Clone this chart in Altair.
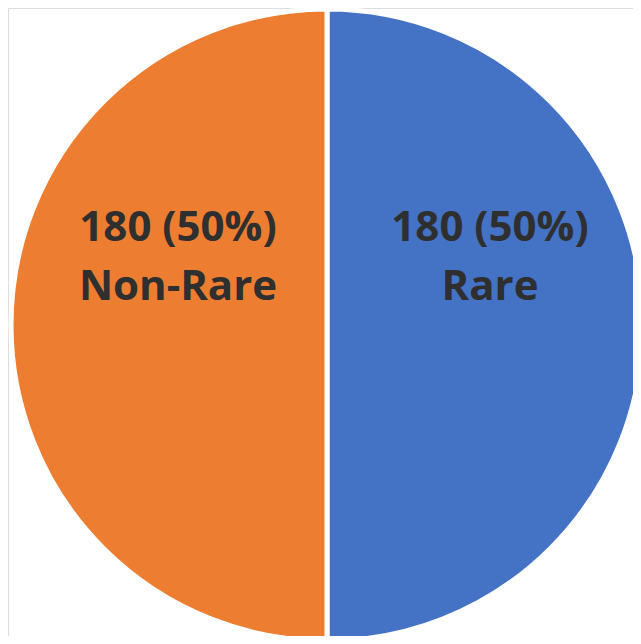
import altair as alt
import pandas as pd

categories = ["Rare", "Non-Rare"]
counts = [180, 180]
colors = ["#4472C4", "#ED7D31"]

total = sum(counts)
df = pd.DataFrame({
    "category": categories,
    "count": counts,
    "order": list(range(len(categories))),
})
df["line1"] = [f"{c} ({round(100 * c / total)}%)" for c in counts]

cx, cy = 319, 317

base = alt.Chart(df).encode(
    theta=alt.Theta("count:Q", stack=True),
    order=alt.Order("order:Q"),
    x=alt.value(cx),
    y=alt.value(cy),
)

pie = base.mark_arc(outerRadius=316, stroke="white", strokeWidth=5).encode(
    color=alt.Color("category:N", scale=alt.Scale(domain=categories, range=colors), legend=None)
)

font = "Open Sans"
t1 = base.mark_text(radius=156, dx=7, dy=-97, font=font, fontWeight="bold", fontSize=42,
                    color="#2F2F2F", baseline="middle", align="center").encode(text="line1:N")
t2 = base.mark_text(radius=156, dx=7, dy=-38, font=font, fontWeight="bold", fontSize=42,
                    color="#2F2F2F", baseline="middle", align="center").encode(text="category:N")

chart = alt.layer(pie, t1, t2).properties(
    width=625, height=628, autosize=alt.AutoSizeParams(type="none"), padding=0
).configure_view(stroke=None).configure(background="white")

chart.save("out.html", embed_options={"renderer": "svg", "actions": False})
